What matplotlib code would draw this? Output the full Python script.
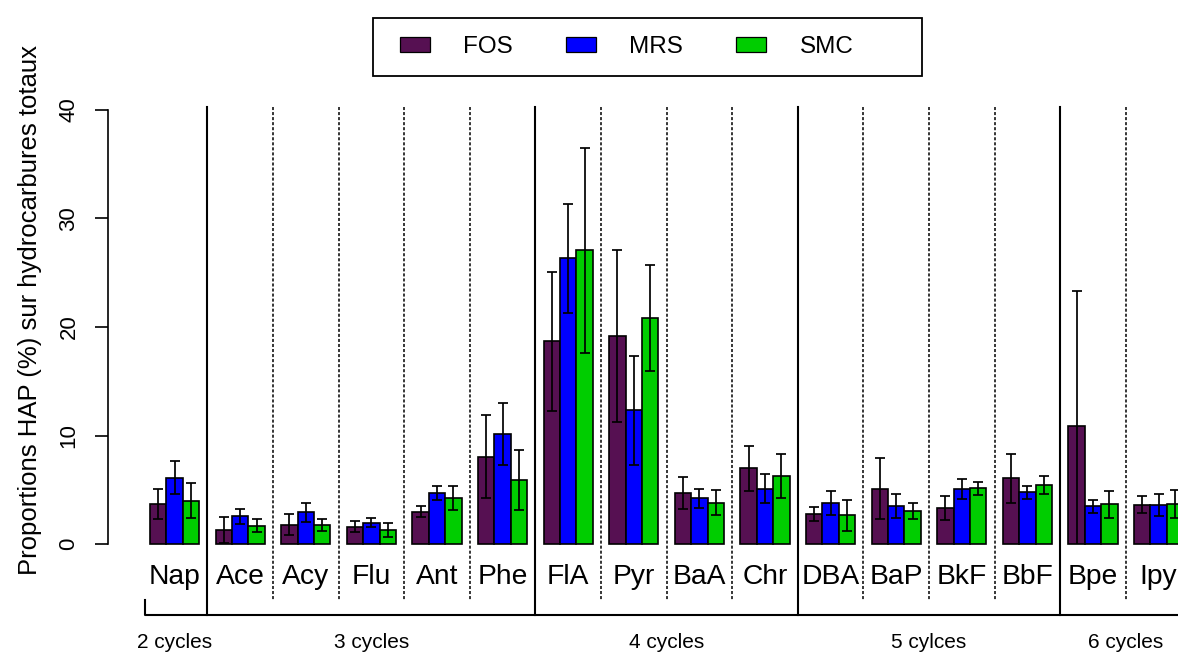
import numpy as np
import matplotlib
matplotlib.use("Agg")
import matplotlib.pyplot as plt
from matplotlib.patches import Patch, Rectangle
from matplotlib.lines import Line2D

plt.rcParams['font.family'] = ['Liberation Sans', 'DejaVu Sans']

# mean share of each PAH (% of total hydrocarbons) and standard deviations
hap = ["Nap", "Ace", "Acy", "Flu", "Ant", "Phe", "FlA", "Pyr", "BaA", "Chr",
       "DBA", "BaP", "BkF", "BbF", "Bpe", "Ipy"]
fos = [3.66, 1.32, 1.78, 1.60, 2.98, 8.05, 18.68, 19.17, 4.73, 6.97,
       2.80, 5.10, 3.29, 6.05, 10.90, 3.63]
mrs = [6.11, 2.55, 2.92, 1.97, 4.70, 10.14, 26.33, 12.32, 4.21, 5.10,
       3.81, 3.50, 5.07, 4.76, 3.50, 3.60]
smc = [4.00, 1.69, 1.75, 1.32, 4.27, 5.90, 27.07, 20.86, 3.81, 6.27,
       2.64, 3.04, 5.13, 5.44, 3.66, 3.72]
fos_sd = [1.40, 1.20, 0.95, 0.50, 0.53, 3.84, 6.43, 7.96, 1.49, 2.04,
          0.65, 2.80, 1.12, 2.29, 12.40, 0.80]
mrs_sd = [1.50, 0.68, 0.86, 0.40, 0.65, 2.86, 5.04, 5.04, 0.90, 1.33,
          1.12, 1.10, 0.94, 0.61, 0.60, 1.00]
smc_sd = [1.60, 0.63, 0.58, 0.63, 1.10, 2.80, 9.46, 4.87, 1.17, 2.01,
          1.41, 0.75, 0.63, 0.82, 1.25, 1.30]

cycles = ["2 cycles", "3 cycles", "4 cycles", "5 cylces", "6 cycles"]
n_per_cycle = [1, 5, 4, 4, 2]

series = ["FOS", "MRS", "SMC"]
colors = ["#561052", "#0000FF", "#00CD00"]

W, H = 1178, 653
fig = plt.figure(figsize=(W / 100, H / 100), dpi=100)

# axes: y axis line at x=108px, value 0 at y=544px, value 40 at y=110px
ax = fig.add_axes([108 / W, (H - 544) / H, (W - 108) / W, (544 - 110) / H])
u = 16.4  # pixels per bar width
x0 = 133.6  # pixel of x = 0
ax.set_xlim((108 - x0) / u, (W - x0) / u)
ax.set_ylim(0, 40)
py = 40 / (544 - 110)  # data units per pixel (y)

def ypix(p):
    return (544 - p) * py

n = len(hap)
idx = np.arange(n)
means = [fos, mrs, smc]
sds = [fos_sd, mrs_sd, smc_sd]
for k in range(3):
    xs = 4 * idx + 1.5 + k
    m = np.array(means[k])
    s = np.array(sds[k])
    ax.bar(xs, m, width=1.0, color=colors[k], edgecolor="black", linewidth=1.2,
           zorder=2, clip_on=False)
    # error bars are clipped at the zero line by the axes
    ax.errorbar(xs, m, yerr=s, fmt="none", ecolor="black",
                elinewidth=1.25, capsize=3.6, capthick=1.25, zorder=3)

# separators between compounds, solid between ring-number families
bounds = np.cumsum(n_per_cycle)[:-1]
for i in range(n - 1):
    xv = 4 * (i + 1) + 0.5
    if (i + 1) in bounds:
        ax.add_line(Line2D([xv, xv], [ypix(107), ypix(615)], color="black",
                           lw=1.5, clip_on=False, zorder=1))
    else:
        ax.add_line(Line2D([xv, xv], [ypix(107), ypix(600)], color="black",
                           lw=1.1, ls=(0, (2.0, 1.3)), clip_on=False, zorder=1))

# bracket under the compound names
xl = (145 - x0) / u
ax.add_line(Line2D([xl, xl, ax.get_xlim()[1] + 1], [ypix(600), ypix(615), ypix(615)],
                   color="black", lw=1.5, clip_on=False))

# compound names
for i, name in enumerate(hap):
    ax.text(4 * i + 2.5, ypix(577.5), name, ha="center", va="center",
            fontsize=20.3, clip_on=False)

# ring-number family labels
start = 0
for lab, cnt in zip(cycles, n_per_cycle):
    xc = (4 * start + 4 * (start + cnt - 1)) / 2 + 2.5
    ax.text(xc, ypix(642), lab, ha="center", va="center", fontsize=15,
            clip_on=False)
    start += cnt

# axes styling
for sp in ["top", "right", "bottom"]:
    ax.spines[sp].set_visible(False)
ax.spines["left"].set_bounds(0, 40)
ax.spines["left"].set_linewidth(1.2)
ax.set_xticks([])
ax.set_yticks([0, 10, 20, 30, 40])
ax.tick_params(axis="y", length=9.5, width=1.2, pad=11, labelsize=16)
for t in ax.get_yticklabels():
    t.set_rotation(90)
    t.set_va("center")

fig.text(30 / W, 1 - 310 / H, "Proportions HAP (%) sur hydrocarbures totaux",
         rotation=90, ha="center", va="center", fontsize=18.5)

# legend entries plus a separate frame around them
handles = [Patch(facecolor=c, edgecolor="black", linewidth=0.9) for c in colors]
leg = fig.legend(handles, series, loc="center left", ncol=3,
                 bbox_to_anchor=(400 / W, 1 - 47 / H), fontsize=17.5,
                 frameon=False, handlelength=1.23, handleheight=0.58,
                 handletextpad=1.36, columnspacing=2.2,
                 borderpad=0, borderaxespad=0)
fig.add_artist(Rectangle((373 / W, 1 - 76 / H), 549 / W, 58 / H,
                         transform=fig.transFigure, fill=False,
                         edgecolor="black", linewidth=1.3))

fig.savefig("out.png", dpi=100)
